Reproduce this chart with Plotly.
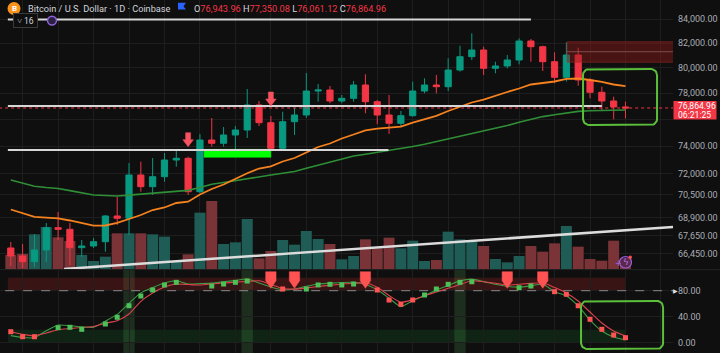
import numpy as np
import plotly.graph_objects as go

# ---------------- data ----------------
bar_index = list(range(53))
open_ = [66844, 66313, 65937, 66711, 68211, 68102, 66864, 66978, 67265, 69012,
         68853, 71894, 71060, 71772, 72977, 73101, 70706, 74448, 74204, 74821,
         75194, 77094, 75745, 73834, 75820, 76329, 78178, 78255, 77402, 77610,
         78647, 77348, 76329, 75699, 76275, 78178, 78647, 78514, 79833, 80900,
         81442, 79968, 80153, 80634, 82177, 81711, 80497, 79254, 81038, 79040,
         78077, 77402, 76943.96]
high = [67245, 67112, 67784, 68532, 69286, 68532, 67379, 67514, 69081, 70354,
        72760, 72854, 73123, 73489, 73708, 73218, 74896, 76100, 75420, 75496,
        78333, 77402, 76253, 76580, 76863, 79595, 78726, 78569, 77867, 78961,
        79492, 77479, 77867, 76634, 78907, 79175, 79436, 80771, 81793, 82811,
        81711, 80497, 81038, 82398, 82340, 81793, 81256, 82070, 81629, 79175,
        78514, 77735, 77350.08]
low = [65654, 65523, 65588, 65917, 67379, 65720, 66247, 66844, 66598, 68395,
       67716, 70706, 70474, 71415, 72491, 70474, 70614, 73952, 73952, 73343,
       74597, 75496, 73708, 73708, 74821, 76100, 77348, 77225, 77225, 77348,
       76458, 75624, 74896, 75443, 76199, 77999, 77999, 78178, 79698, 80634,
       79436, 79571, 79968, 80289, 80497, 79753, 78781, 78907, 78593, 77610,
       76710, 76001, 76061.12]
close = [66313, 65937, 66711, 68211, 68102, 66864, 66978, 67265, 69012, 68853,
         71894, 71060, 71772, 72977, 73101, 70706, 74448, 74204, 74821, 75194,
         77094, 75745, 73834, 75820, 76329, 78178, 78255, 77402, 77610, 78647,
         77348, 76329, 75699, 76275, 78178, 78647, 78514, 79833, 80900, 81442,
         79968, 80153, 80634, 82177, 81711, 80497, 79254, 81038, 79040, 78077,
         77402, 76944, 76864.96]
volume = [4200, 4500, 10400, 12600, 9500, 8400, 4200, 2400, 3700, 10700,
          10700, 10700, 10400, 9700, 2400, 4400, 16900, 20400, 7500, 8000,
          15000, 3200, 5400, 8700, 7300, 11400, 9000, 7500, 2900, 3900,
          8900, 6200, 9400, 6200, 8500, 2400, 2700, 11200, 8900, 8200,
          6900, 3000, 2000, 3900, 6900, 5200, 7700, 12900, 6700, 3000,
          2500, 8500, 3300]
ema_fast = [69460, 69185, 68957, 68895, 68846, 68703, 68498, 68347, 68361, 68545,
            68805, 69081, 69426, 69600, 69913, 70004, 70509, 70896, 71216, 71643,
            72016, 72360, 72520, 72869, 73123, 73526, 73930, 74189, 74559, 74858,
            75172, 75292, 75360, 75443, 75745, 76024, 76268, 76634, 76979, 77287,
            77517, 77828, 78100, 78372, 78687, 78805, 78922, 79135, 79159, 79040,
            78899, 78687, 78553]
ema_slow = [71536, 71301, 71095, 71002, 70932, 70783, 70614, 70474, 70438, 70403,
            70467, 70530, 70579, 70636, 70713, 70797, 71002, 71237, 71358, 71500,
            71629, 71758, 71887, 72016, 72145, 72375, 72585, 72832, 73050, 73270,
            73394, 73526, 73650, 73812, 73967, 74137, 74330, 74522, 74724, 74941,
            75097, 75307, 75533, 75783, 76001, 76207, 76344, 76474, 76603, 76649,
            76672, 76695, 76710]
osc_fast = [10.9, 8.0, 7.8, 18.3, 27.1, 26.2, 24.5, 23.8, 33.1, 43.5,
            60.6, 76.6, 84.8, 91.8, 95.4, 90.3, 90.9, 91.7, 93.8, 95.8,
            98.0, 92.0, 85.8, 81.4, 82.6, 86.8, 90.3, 91.5, 92.6, 92.9,
            89.4, 81.4, 68.5, 55.5, 64.6, 72.6, 80.9, 88.0, 95.1, 97.8,
            94.0, 89.8, 86.6, 85.5, 87.5, 89.8, 78.5, 71.8, 56.5, 34.9,
            18.0, 8.8, 4.2]
osc_slow = [16.9, 12.8, 10.8, 14.9, 19.8, 21.7, 23.4, 24.8, 30.0, 33.7,
            44.2, 63.7, 76.5, 85.7, 90.3, 89.5, 88.8, 90.3, 91.8, 93.1,
            94.2, 95.2, 89.7, 83.4, 82.5, 84.3, 86.5, 88.3, 90.0, 91.4,
            92.2, 85.2, 72.6, 62.2, 66.2, 72.2, 78.0, 83.7, 89.5, 95.2,
            93.8, 91.5, 88.8, 90.0, 91.2, 92.2, 84.9, 76.5, 64.2, 47.2,
            30.3, 18.0, 10.3]
osc_dot = [16.9, 9.2, 9.2, None, 23.1, 23.7, 20.6, None, 28.8, 39.1,
           56.9, 71.8, 81.1, 88.8, 92.9, None, None, 87.2, 90.3, 92.9,
           94.9, None, None, 82.6, None, 82.6, 88.8, 89.8, 88.8, 90.3,
           None, 81.1, 65.7, 59.1, 65.7, 73.4, 82.6, 89.8, 92.9, 93.8,
           None, None, None, 84.6, 87.2, None, 78.5, 74.5, 56.9, 36.0,
           20.6, 11.8, 7.7]
osc_dot_down = [0, 1, 2, 23, 31, 32, 33, 34, 46, 47, 48, 49, 50, 51, 52]
price_signal_idx = [15, 22]
osc_signal_idx = [22, 24, 30, 42, 45]
highlight_idx = [10, 20, 38]

price_ticks = [66450, 67650, 68900, 70500, 72000, 74000, 76000, 78000, 80000, 82000, 84000]
osc_ticks = [0, 40, 80]

# drawings (bar index / price)
hline_top = dict(price=83950, i0=-0.25, i1=44.0)
hline_mid = dict(price=77020, i0=-0.25, i1=50.0)
hline_low = dict(price=73710, i0=-0.25, i1=31.95)
fvg_box = dict(i0=16.35, i1=22.0, p0=73174, p1=73760)
supply_zone = dict(i0=47.06, i1=60, p0=80458, p1=82108, mid=81303)
trend_line = dict(i=[4.5, 56.02], p=[65457, 68259])
price_focus = dict(i0=48.41, i1=54.67, p0=75571, p1=79912)
osc_focus = dict(i0=48.24, i1=55.18, v0=-9.7, v1=64.2)
osc_zone_end = 52.05
last_price = close[-1]

# ---------------- style ----------------
UP, DN = "#089981", "#f23645"
VOL_UP, VOL_DN = "#1f5c56", "#7a3336"
BG, GRID = "#0f0f0f", "#1e1e1e"
TXT = "#d1d4dc"
AX = "#a9acb4"
BOXG = "#5cbf3c"
FONT = "Roboto"
W, H = 720, 353
PX_PER_BAR = 11.82
PX_PER_LN = 1002.0
PX_PER_OSC = 0.65

x_range = [-0.914, 56.02]
price_range = [np.log10(65457), np.log10(85608)]
osc_range = [-15.85, 111.85]
vol_range = [0, 80700]
xdom = [0, 673 / W]
price_dom = [1 - 269 / H, 1]
osc_dom = [0, 83 / H]


def px(xp):
    return xp / W


def py(yp):
    return 1 - yp / H


def rounded(x0, x1, y0, y1, rx, ry, n=9):
    xs, ys = [], []
    corners = [(x1 - rx, y1 - ry, 0, 90), (x0 + rx, y1 - ry, 90, 180),
               (x0 + rx, y0 + ry, 180, 270), (x1 - rx, y0 + ry, 270, 360)]
    for cx, cy, a0, a1 in corners:
        t = np.radians(np.linspace(a0, a1, n))
        xs.extend(cx + rx * np.cos(t))
        ys.extend(cy + ry * np.sin(t))
    xs.append(xs[0])
    ys.append(ys[0])
    return np.array(xs), np.array(ys)


fig = go.Figure()
PX = dict(xaxis="x", yaxis="y2", hoverinfo="skip", showlegend=False)
OS = dict(xaxis="x2", yaxis="y4", hoverinfo="skip", showlegend=False)

# volume (base axis so it sits under the price overlay)
vol_colors = [VOL_UP if c >= o else VOL_DN for o, c in zip(open_, close)]
fig.add_trace(go.Bar(x=bar_index, y=volume, marker=dict(color=vol_colors, line=dict(width=0)),
                     xaxis="x", yaxis="y", hoverinfo="skip", showlegend=False))

# supply zone
z = supply_zone
fig.add_trace(go.Scatter(x=[z["i0"], z["i1"], z["i1"], z["i0"], z["i0"]],
                         y=[z["p0"], z["p0"], z["p1"], z["p1"], z["p0"]],
                         mode="lines", fill="toself", fillcolor="rgba(140,25,25,0.45)",
                         line=dict(color="rgba(170,40,40,0.55)", width=1), **PX))
fig.add_trace(go.Scatter(x=[z["i0"], z["i1"]], y=[z["mid"], z["mid"]], mode="lines",
                         line=dict(color="rgba(200,140,140,0.45)", width=1), **PX))

# current price dotted line
fig.add_trace(go.Scatter(x=[-2, 60], y=[last_price, last_price], mode="lines",
                         line=dict(color=DN, width=1, dash="dot"), **PX))

# candles
fig.add_trace(go.Candlestick(x=bar_index, open=open_, high=high, low=low, close=close,
                             increasing=dict(line=dict(color=UP, width=1), fillcolor=UP),
                             decreasing=dict(line=dict(color=DN, width=1), fillcolor=DN),
                             whiskerwidth=0, xaxis="x", yaxis="y2", hoverinfo="skip",
                             showlegend=False))

# moving averages
fig.add_trace(go.Scatter(x=bar_index, y=ema_slow, mode="lines",
                         line=dict(color="#2f8f37", width=1.6), **PX))
fig.add_trace(go.Scatter(x=bar_index, y=ema_fast, mode="lines",
                         line=dict(color="#f5821f", width=1.8), **PX))

# FVG box
b = fvg_box
fig.add_trace(go.Scatter(x=[b["i0"], b["i1"], b["i1"], b["i0"], b["i0"]],
                         y=[b["p0"], b["p0"], b["p1"], b["p1"], b["p0"]],
                         mode="lines", fill="toself", fillcolor="#00ff00",
                         line=dict(color="#00ff00", width=0.5), **PX))

# horizontal lines
for hl in (hline_top, hline_mid, hline_low):
    fig.add_trace(go.Scatter(x=[hl["i0"], hl["i1"]], y=[hl["price"], hl["price"]], mode="lines",
                             line=dict(color="#d6d6d6", width=2), **PX))

# trend line
fig.add_trace(go.Scatter(x=trend_line["i"], y=trend_line["p"], mode="lines",
                         line=dict(color="#dcdcdc", width=2.5), **PX))

# price signal arrows
for i in price_signal_idx:
    h = high[i]
    f = lambda k: h * np.exp(k / PX_PER_LN)
    sw, hw = 2.5 / PX_PER_BAR, 5.3 / PX_PER_BAR
    xs = [i - sw, i + sw, i + sw, i + hw, i, i - hw, i - sw, i - sw]
    ys = [f(24), f(24), f(17), f(17), f(10), f(17), f(17), f(24)]
    fig.add_trace(go.Scatter(x=xs, y=ys, mode="lines", fill="toself", fillcolor="#f7525f",
                             line=dict(color="#f7525f", width=0.5), **PX))

# focus box (price)
pf = price_focus
bx, by = rounded(pf["i0"], pf["i1"], np.log(pf["p0"]), np.log(pf["p1"]),
                 6 / PX_PER_BAR, 6 / PX_PER_LN)
fig.add_trace(go.Scatter(x=bx, y=np.exp(by), mode="lines", line=dict(color=BOXG, width=2), **PX))

# ---------------- oscillator pane ----------------
fig.add_trace(go.Scatter(x=[-2, 60], y=[80, 80], mode="lines",
                         line=dict(color="#8a8a8a", width=1, dash="dash"), **OS))
fig.add_trace(go.Scatter(x=bar_index, y=osc_fast, mode="lines",
                         line=dict(color="#3b9a45", width=1.1, shape="spline", smoothing=0.6), **OS))
fig.add_trace(go.Scatter(x=bar_index, y=osc_slow, mode="lines",
                         line=dict(color="#d9434d", width=1.1, shape="spline", smoothing=0.6), **OS))
dot_colors = ["#ff5252" if i in osc_dot_down else "#4cc158" for i in bar_index]
fig.add_trace(go.Scatter(x=bar_index, y=osc_dot, mode="markers",
                         marker=dict(symbol="square", size=5, color=dot_colors, line=dict(width=0)),
                         **OS))
for i in osc_signal_idx:
    hw = 5.2 / PX_PER_BAR
    xs = [i - hw, i + hw, i + hw, i, i - hw, i - hw]
    ys = [109.2, 109.2, 95.5, 83.7, 95.5, 109.2]
    fig.add_trace(go.Scatter(x=xs, y=ys, mode="lines", fill="toself", fillcolor="#ff5252",
                             line=dict(color="#ff5252", width=0.5), **OS))
of = osc_focus
bx, by = rounded(of["i0"], of["i1"], of["v0"], of["v1"], 6 / PX_PER_BAR, 6 / PX_PER_OSC)
fig.add_trace(go.Scatter(x=bx, y=by, mode="lines", line=dict(color=BOXG, width=2), **OS))

# ---------------- shapes ----------------
shapes = [
    dict(type="rect", xref="x2", yref="y4", x0=-0.25, x1=osc_zone_end, y0=80, y1=100,
         fillcolor="rgba(178,34,34,0.26)", line=dict(width=0), layer="below"),
    dict(type="rect", xref="x2", yref="y4", x0=-0.25, x1=osc_zone_end, y0=0, y1=20,
         fillcolor="rgba(30,160,60,0.15)", line=dict(width=0), layer="below"),
]
for i in highlight_idx:
    shapes.append(dict(type="rect", xref="x2", yref="y4 domain", x0=i - 0.48, x1=i + 0.48,
                       y0=0, y1=1, fillcolor="rgba(76,140,76,0.25)", line=dict(width=0),
                       layer="below"))
# pane separator
shapes.append(dict(type="line", xref="paper", yref="paper", x0=0, x1=1, y0=py(269.6), y1=py(269.6),
                   line=dict(color="#232323", width=1)))
# header icons
shapes.append(dict(type="circle", xref="paper", yref="paper", x0=px(7.5), x1=px(20.5),
                   y0=py(15), y1=py(2), fillcolor="#f7931a", line=dict(width=0)))
shapes.append(dict(type="path", xref="paper", yref="paper",
                   path=f"M {px(178)},{py(2.8)} L {px(186)},{py(2.8)} L {px(183.5)},{py(6.2)} "
                        f"L {px(186)},{py(9.6)} L {px(178)},{py(9.6)} Z",
                   fillcolor="#2962ff", line=dict(width=0)))
shapes.append(dict(type="circle", xref="paper", yref="paper", x0=px(47.5), x1=px(56.5),
                   y0=py(25), y1=py(16.2), fillcolor="#2b1f44", line=dict(color="#8b63d6", width=1.5)))
# price tag
shapes.append(dict(type="rect", xref="paper", yref="paper", x0=px(673.5), x1=px(716.5),
                   y0=py(119.5), y1=py(101), fillcolor=DN, line=dict(width=0)))
# alert icon
shapes.append(dict(type="circle", xref="paper", yref="paper", x0=px(619.5), x1=px(631.5),
                   y0=py(268), y1=py(256.5), fillcolor="rgba(60,30,90,0.5)",
                   line=dict(color="#9c5fe0", width=1.2)))
shapes.append(dict(type="circle", xref="paper", yref="paper", x0=px(628.5), x1=px(632),
                   y0=py(259), y1=py(255.5), fillcolor="#ff4d4d", line=dict(width=0)))

# ---------------- annotations ----------------
ohlc_vals = [open_[-1], high[-1], low[-1], close[-1]]
ohlc_col = DN if close[-1] < open_[-1] else UP
ohlc_txt = " ".join(f"{lab}<span style='color:{ohlc_col}'>{v:,.2f}</span>"
                    for lab, v in zip("OHLC", ohlc_vals))
ann = [
    dict(x=px(14), y=py(8.6), text="<b>B</b>", font=dict(family=FONT, size=8, color="white"),
         xanchor="center", yanchor="middle"),
    dict(x=px(25.5), y=py(8.5), text="Bitcoin / U.S. Dollar · 1D · Coinbase",
         font=dict(family=FONT, size=9.2, color=TXT), xanchor="left", yanchor="middle"),
    dict(x=px(192), y=py(8.5), text=ohlc_txt, font=dict(family=FONT, size=9.2, color=TXT),
         xanchor="left", yanchor="middle"),
    dict(x=px(25), y=py(20.5), text="˅ 16", font=dict(family=FONT, size=8.5, color=TXT),
         xanchor="center", yanchor="middle", bgcolor=BG, bordercolor="#3a3a3a", borderwidth=1,
         borderpad=1.5, width=20),
    dict(x=px(676), y=py(106.3), text=f"{last_price:,.2f}", font=dict(family=FONT, size=8.6, color="white"),
         xanchor="left", yanchor="middle"),
    dict(x=px(676), y=py(114.6), text="06:21:25", font=dict(family=FONT, size=8.6, color="white"),
         xanchor="left", yanchor="middle"),
    dict(x=px(675.5), y=py(290.7), text="▶", font=dict(family="DejaVu Sans", size=6, color="#e0e0e0"),
         xanchor="center", yanchor="middle"),
    dict(x=px(625.5), y=py(262.3), text="ϟ", font=dict(family="DejaVu Sans", size=9, color="#b07cf0"),
         xanchor="center", yanchor="middle"),
    dict(x=px(618.5), y=py(263.5), text="+", font=dict(family="DejaVu Sans", size=8, color="#9c5fe0"),
         xanchor="center", yanchor="middle"),
]
for a in ann:
    a.update(xref="paper", yref="paper", showarrow=False)

price_text = [("" if v == 76000 else f"{v:,.2f}") for v in price_ticks]

fig.update_layout(
    width=W, height=H, margin=dict(l=0, r=0, t=0, b=0),
    paper_bgcolor=BG, plot_bgcolor=BG, showlegend=False, hovermode=False,
    boxgap=0.25, bargap=0.07, shapes=shapes, annotations=ann,
    font=dict(family=FONT, color=AX, size=9),
    xaxis=dict(domain=xdom, anchor="y", range=x_range, tickvals=list(range(1, 57, 3)),
               showticklabels=False, showgrid=True, gridcolor=GRID, gridwidth=1,
               zeroline=False, showline=False, ticks="", rangeslider=dict(visible=False),
               fixedrange=True),
    yaxis=dict(domain=price_dom, anchor="x", range=vol_range, showgrid=False, zeroline=False,
               showticklabels=False, showline=False, ticks="", fixedrange=True),
    yaxis2=dict(overlaying="y", anchor="x", side="right", type="log", range=price_range,
                tickvals=price_ticks, ticktext=price_text, showgrid=True, gridcolor=GRID,
                zeroline=False, showline=False, ticks="", ticklabelstandoff=4,
                tickfont=dict(family=FONT, size=9, color=AX), fixedrange=True),
    xaxis2=dict(domain=xdom, anchor="y4", matches="x", range=x_range,
                tickvals=list(range(1, 57, 3)), showticklabels=False, showgrid=True,
                gridcolor=GRID, zeroline=False, showline=False, ticks="", fixedrange=True),
    yaxis4=dict(domain=osc_dom, anchor="x2", side="right", range=osc_range,
                tickvals=osc_ticks, ticktext=[f"{v:.2f}" for v in osc_ticks],
                showgrid=True, gridcolor=GRID, zeroline=False, showline=False, ticks="",
                ticklabelstandoff=4, tickfont=dict(family=FONT, size=9, color=AX),
                fixedrange=True),
)

fig.write_html("out.html", config={"displayModeBar": False, "staticPlot": True})
